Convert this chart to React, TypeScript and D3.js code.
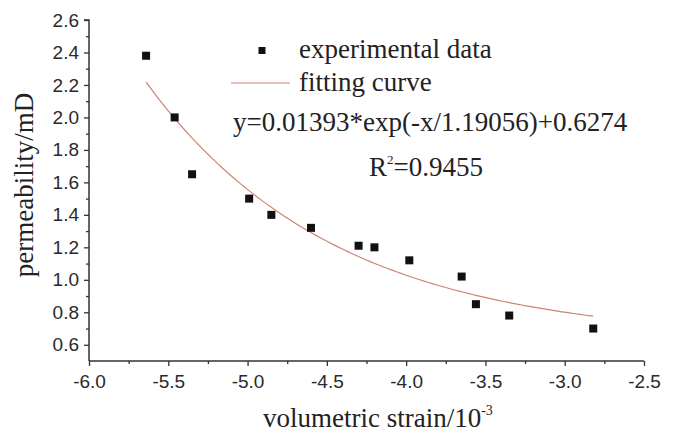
import React, { useEffect, useRef } from "react";
import * as d3 from "d3";

// Experimental data (volumetric strain / 10^-3, permeability / mD)
const strain = [-5.64, -5.46, -5.35, -4.99, -4.85, -4.6, -4.3, -4.2, -3.98, -3.65, -3.56, -3.35, -2.82];
const permeability = [2.38, 2.0, 1.65, 1.5, 1.4, 1.32, 1.21, 1.2, 1.12, 1.02, 0.85, 0.78, 0.7];

// Fitting curve parameters as printed on the chart
const fitA = 0.01393;
const fitT = 1.19056;
const fitY0 = 0.6274;

const xTicks = [-6.0, -5.5, -5.0, -4.5, -4.0, -3.5, -3.0, -2.5];
const xMinorTicks = [-5.75, -5.25, -4.75, -4.25, -3.75, -3.25, -2.75];
const yTicks = [0.6, 0.8, 1.0, 1.2, 1.4, 1.6, 1.8, 2.0, 2.2, 2.4, 2.6];
const yMinorTicks = [0.7, 0.9, 1.1, 1.3, 1.5, 1.7, 1.9, 2.1, 2.3, 2.5];

const legendLabels = ["experimental data", "fitting curve"];
const equationText = "y=0.01393*exp(-x/1.19056)+0.6274";
const r2Value = "=0.9455";

const W = 673;
const H = 432;
const curveColor = "#cf8474";

const fmt = (d: number) => d.toFixed(1);

export default function App() {
  const ref = useRef<SVGSVGElement>(null);

  useEffect(() => {
    const svg = d3.select(ref.current);
    svg.selectAll("*").remove();

    const x = d3.scaleLinear().domain([-6, -2.5]).range([89, 644]);
    const y = d3.scaleLinear().domain([0.5, 2.6]).range([361, 20]);

    svg.append("rect").attr("width", W).attr("height", H).attr("fill", "#fff");

    const axisColor = "#333";

    // X axis
    const gx = svg.append("g").attr("transform", `translate(0,${y(0.5)})`);
    gx.call(d3.axisBottom(x).tickValues(xTicks).tickSize(5).tickPadding(9).tickFormat(fmt as any));
    const gxm = svg.append("g").attr("transform", `translate(0,${y(0.5)})`);
    gxm.call(d3.axisBottom(x).tickValues(xMinorTicks).tickSize(3).tickFormat(() => ""));
    gxm.select(".domain").remove();

    // Y axis
    const gy = svg.append("g").attr("transform", `translate(${x(-6)},0)`);
    gy.call(d3.axisLeft(y).tickValues(yTicks).tickSize(5).tickPadding(5).tickFormat(fmt as any));
    const gym = svg.append("g").attr("transform", `translate(${x(-6)},0)`);
    gym.call(d3.axisLeft(y).tickValues(yMinorTicks).tickSize(3).tickFormat(() => ""));
    gym.select(".domain").remove();

    [gx, gxm, gy, gym].forEach((g) => {
      g.attr("font-size", 19).attr("font-family", "'Liberation Sans', Arial, sans-serif");
      g.select(".domain").attr("stroke", axisColor).attr("stroke-width", 1.5);
      g.selectAll(".tick line").attr("stroke", axisColor).attr("stroke-width", 1.3);
      g.selectAll(".tick text").attr("fill", "#2a2a2a");
    });
    gx.select(".domain").attr("d", `M${x(-6)},0H${x(-2.5)}`);
    gy.select(".domain").attr("d", `M-5,${y(2.6)}H0V${y(0.5)}`);

    // Fitting curve
    const [xmin, xmax] = d3.extent(strain) as [number, number];
    const curvePts = d3.range(0, 101).map((i) => {
      const xv = xmin + ((xmax - xmin) * i) / 100;
      return [xv, fitA * Math.exp(-xv / fitT) + fitY0] as [number, number];
    });
    svg
      .append("path")
      .attr(
        "d",
        d3
          .line<[number, number]>()
          .x((d) => x(d[0]))
          .y((d) => y(d[1]))(curvePts)
      )
      .attr("fill", "none")
      .attr("stroke", curveColor)
      .attr("stroke-width", 1.2);

    // Data points
    const sq = 8;
    svg
      .append("g")
      .selectAll("rect")
      .data(strain.map((s, i) => [s, permeability[i]]))
      .join("rect")
      .attr("x", (d) => x(d[0]) - sq / 2)
      .attr("y", (d) => y(d[1]) - sq / 2)
      .attr("width", sq)
      .attr("height", sq)
      .attr("fill", "#111");

    const serif = "'Liberation Serif', 'Times New Roman', serif";
    const txtColor = "#222";

    // Legend
    svg
      .append("rect")
      .attr("x", 262 - 3.5)
      .attr("y", 50.5 - 3.5)
      .attr("width", 7)
      .attr("height", 7)
      .attr("fill", "#111");
    svg
      .append("line")
      .attr("x1", 231)
      .attr("x2", 290)
      .attr("y1", 83)
      .attr("y2", 83)
      .attr("stroke", curveColor)
      .attr("stroke-width", 1.2);
    svg
      .append("g")
      .selectAll("text")
      .data(legendLabels)
      .join("text")
      .attr("x", 299)
      .attr("y", (_, i) => 58 + i * 33)
      .text((d) => d)
      .attr("fill", txtColor)
      .style("font-family", serif)
      .style("font-size", "27px");

    svg
      .append("text")
      .attr("x", 233)
      .attr("y", 131)
      .text(equationText)
      .attr("fill", txtColor)
      .style("font-family", serif)
      .style("font-size", "27px");

    const r2 = svg
      .append("text")
      .attr("x", 369)
      .attr("y", 176)
      .attr("fill", txtColor)
      .style("font-family", serif)
      .style("font-size", "27px");
    r2.append("tspan").text("R");
    r2.append("tspan").attr("dy", -12).style("font-size", "13px").text("2");
    r2.append("tspan").attr("dy", 12).text(r2Value);

    // Axis titles
    const xl = svg
      .append("text")
      .attr("x", 263)
      .attr("y", 427)
      .attr("fill", txtColor)
      .style("font-family", serif)
      .style("font-size", "27px");
    xl.append("tspan").text("volumetric strain/10");
    xl.append("tspan").attr("dy", -12).style("font-size", "14px").text("-3");

    svg
      .append("text")
      .attr("transform", `translate(33,${185}) rotate(-90)`)
      .attr("text-anchor", "middle")
      .attr("fill", txtColor)
      .style("font-family", serif)
      .style("font-size", "27px")
      .text("permeability/mD");
  }, []);

  return (
    <svg
      ref={ref}
      width={W}
      height={H}
      style={{ position: "absolute", left: 0, top: 0, display: "block" }}
    />
  );
}
